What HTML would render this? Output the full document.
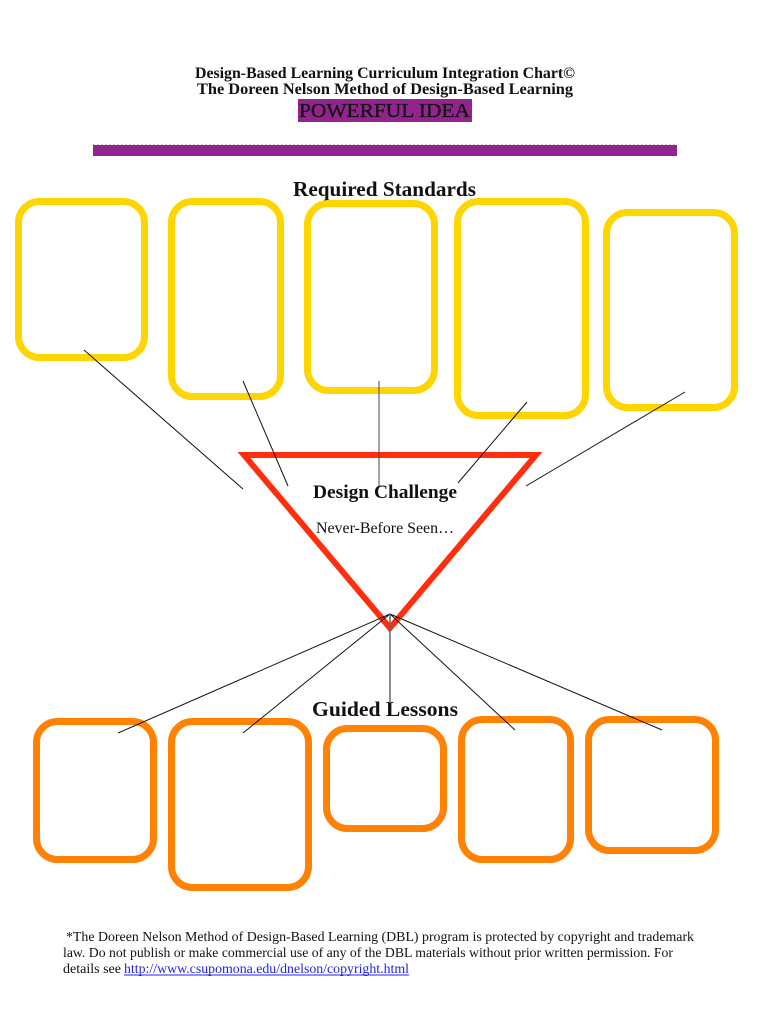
<!DOCTYPE html>
<html><head><meta charset="utf-8"><style>
html,body{margin:0;padding:0;background:#fff;}
svg{display:block;}
text{font-family:"Liberation Serif",serif;}
</style></head><body>
<svg width="770" height="1024" viewBox="0 0 770 1024" xmlns="http://www.w3.org/2000/svg">
<rect width="770" height="1024" fill="#fff"/>
<!-- Header -->
<text x="195" y="78" font-size="16" font-weight="bold" fill="#111" textLength="380" lengthAdjust="spacingAndGlyphs">Design-Based Learning Curriculum Integration Chart©</text>
<text x="197" y="94" font-size="16" font-weight="bold" fill="#111" textLength="376" lengthAdjust="spacingAndGlyphs">The Doreen Nelson Method of Design-Based Learning</text>
<rect x="298" y="99" width="174" height="23" fill="#93238E"/>
<text x="299" y="117" font-size="20" fill="#111" stroke="#111" stroke-width="0.3" textLength="171" lengthAdjust="spacingAndGlyphs">POWERFUL IDEA</text>
<rect x="93" y="145" width="584" height="11" fill="#93238E"/>
<line x1="93" y1="144.5" x2="677" y2="144.5" stroke="#ccc" stroke-width="1" stroke-dasharray="2,2"/>

<text x="293" y="196" font-size="21" font-weight="bold" fill="#111" textLength="183" lengthAdjust="spacingAndGlyphs">Required Standards</text>

<!-- Yellow boxes -->
<g fill="none" stroke="#FFD500" stroke-width="7">
<rect x="18.5" y="201.5" width="126" height="156" rx="21"/>
<rect x="171.5" y="201.5" width="109" height="195" rx="21"/>
<rect x="307.5" y="203.5" width="127" height="187" rx="21"/>
<rect x="457.5" y="201.5" width="128" height="214" rx="21"/>
<rect x="606.5" y="212.5" width="128" height="195" rx="21"/>
</g>

<!-- Triangle -->
<polygon points="244,455 536,455 390,628" fill="none" stroke="#FF2E0F" stroke-width="6" stroke-linejoin="miter"/>

<text x="313" y="498" font-size="19" font-weight="bold" fill="#111" textLength="144" lengthAdjust="spacingAndGlyphs">Design Challenge</text>
<text x="316" y="533" font-size="16" fill="#111" textLength="138" lengthAdjust="spacingAndGlyphs">Never-Before Seen…</text>

<text x="312" y="716" font-size="21" font-weight="bold" fill="#111" textLength="146" lengthAdjust="spacingAndGlyphs">Guided Lessons</text>

<!-- Orange boxes -->
<g fill="none" stroke="#FF8205" stroke-width="7">
<rect x="36.5" y="721.5" width="117" height="138" rx="21"/>
<rect x="171.5" y="721.5" width="137" height="166" rx="21"/>
<rect x="326.5" y="728.5" width="117" height="100" rx="21"/>
<rect x="461.5" y="719.5" width="109" height="140" rx="21"/>
<rect x="588.5" y="719.5" width="127" height="131" rx="21"/>
</g>

<!-- Top connectors -->
<g stroke="#111" stroke-width="1">
<line x1="84" y1="350" x2="243" y2="489"/>
<line x1="243" y1="381" x2="288" y2="486"/>
<line x1="379" y1="381" x2="379" y2="487" stroke="#444"/>
<line x1="527" y1="402" x2="458" y2="483"/>
<line x1="685" y1="392" x2="526" y2="486"/>
</g>

<!-- Bottom connectors -->
<g stroke="#111" stroke-width="1">
<line x1="390" y1="614" x2="118" y2="733"/>
<line x1="390" y1="614" x2="243" y2="733"/>
<line x1="390" y1="614" x2="515" y2="730"/>
<line x1="390" y1="614" x2="662" y2="730"/>
</g>
<line x1="390" y1="614" x2="390" y2="703" stroke="#666" stroke-width="1.5"/>

<!-- Footer -->
<text x="66" y="941" font-size="14" fill="#111" textLength="628" lengthAdjust="spacingAndGlyphs">*The Doreen Nelson Method of Design-Based Learning (DBL) program is protected by copyright and trademark</text>
<text x="63" y="957" font-size="14" fill="#111" textLength="610" lengthAdjust="spacingAndGlyphs">law. Do not publish or make commercial use of any of the DBL materials without prior written permission. For</text>
<text x="63" y="973" font-size="14" fill="#111" textLength="58" lengthAdjust="spacingAndGlyphs">details see</text>
<text x="124" y="973" font-size="14" fill="#2222EE" textLength="285" lengthAdjust="spacingAndGlyphs">http://www.csupomona.edu/dnelson/copyright.html</text>
<line x1="124" y1="975" x2="409" y2="975" stroke="#2222EE" stroke-width="1"/>
</svg>
</body></html>
